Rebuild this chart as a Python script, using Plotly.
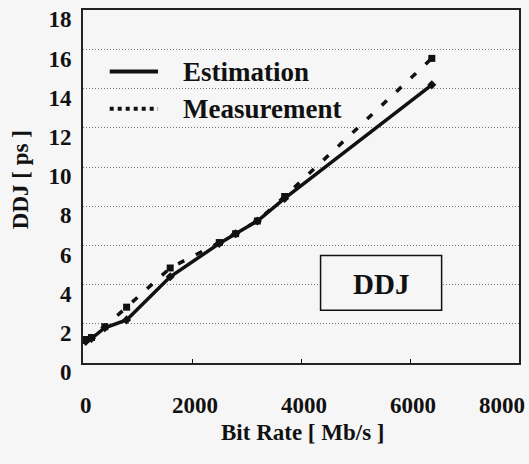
import plotly.graph_objects as go

# Deterministic jitter vs. bit rate
bit_rate = [50, 155, 400, 800, 1600, 2500, 2800, 3200, 3700, 6400]
estimation = [1.1, 1.25, 1.8, 2.2, 4.4, 6.1, 6.6, 7.25, 8.4, 14.2]
measurement = [1.2, 1.3, 1.85, 2.85, 4.85, 6.15, 6.6, 7.25, 8.5, 15.55]

x_ticks = [0, 2000, 4000, 6000, 8000]
x_tick_text = ["0", "2000", "4000", "6000", "8000"]
y_ticks = [0, 2, 4, 6, 8, 10, 12, 14, 16, 18]

series_names = ["Estimation", "Measurement"]
box_label = "DDJ"
x_title = "Bit Rate [ Mb/s ]"
y_title = "DDJ [ ps ]"

FONT = "Liberation Serif"
INK = "#111111"
BG = "#f6f6f6"

fig = go.Figure()

fig.add_trace(go.Scatter(
    x=bit_rate, y=estimation, name=series_names[0], mode="lines+markers",
    line=dict(color=INK, width=3.5),
    marker=dict(symbol="diamond", size=7, color=INK),
))
fig.add_trace(go.Scatter(
    x=bit_rate, y=measurement, name=series_names[1], mode="lines+markers",
    line=dict(color=INK, width=3.5, dash="7px,13px"),
    marker=dict(symbol="square", size=7, color=INK),
))

# Hand-drawn legend block in the upper left of the plot
legend_items = [
    dict(y=14.88, dash=None),
    dict(y=12.98, dash="4px,4px"),
]
for name, item in zip(series_names, legend_items):
    line_style = dict(color=INK, width=4)
    if item["dash"]:
        line_style["dash"] = item["dash"]
    fig.add_shape(type="line", x0=490, x1=1377, y0=item["y"], y1=item["y"],
                  xref="x", yref="y", line=line_style)
    fig.add_annotation(x=1790, y=item["y"], xref="x", yref="y", text=name,
                       showarrow=False, xanchor="left", yanchor="middle",
                       font=dict(family=FONT, size=27, color=INK, weight="bold"))

# Boxed series label
fig.add_shape(type="rect", x0=4359, x1=6580, y0=2.69, y1=5.49, xref="x", yref="y",
              line=dict(color=INK, width=1.5), fillcolor=BG, layer="above")
fig.add_annotation(x=5459, y=4.05, xref="x", yref="y", text=box_label,
                   showarrow=False, xanchor="center", yanchor="middle",
                   font=dict(family=FONT, size=29, color=INK, weight="bold"))

# Bottom tick labels
for i, (v, t) in enumerate(zip(x_ticks, x_tick_text)):
    last = i == len(x_ticks) - 1
    fig.add_annotation(x=v, y=0, xref="x", yref="paper", text=t, showarrow=False,
                       xanchor="right" if last else "center", yanchor="middle",
                       xshift=8 if last else 3, yshift=-42,
                       font=dict(family=FONT, size=23, color=INK, weight="bold"))

# Axis titles
fig.add_annotation(x=0.505, y=0, xref="paper", yref="paper", text=x_title,
                   showarrow=False, xanchor="center", yanchor="middle", yshift=-69,
                   font=dict(family=FONT, size=23, color=INK, weight="bold"))
fig.add_annotation(x=0, y=0.518, xref="paper", yref="paper", text=y_title,
                   showarrow=False, xanchor="center", yanchor="middle", xshift=-63,
                   textangle=-90,
                   font=dict(family=FONT, size=23, color=INK, weight="bold"))

fig.update_layout(
    width=529, height=464,
    margin=dict(l=83, r=10, t=10, b=101),
    paper_bgcolor=BG, plot_bgcolor=BG,
    showlegend=False,
    font=dict(family=FONT, color=INK),
    xaxis=dict(
        range=[0, 8000], tickvals=x_ticks, showticklabels=False,
        ticks="inside", ticklen=4, tickwidth=1, tickcolor=INK,
        showgrid=False, zeroline=False, automargin=False,
        showline=True, linewidth=2, linecolor="#222222", mirror=True,
    ),
    yaxis=dict(
        range=[0, 18.02], tickvals=y_ticks, automargin=False,
        tickfont=dict(family=FONT, size=23, color=INK, weight="bold"),
        ticklabelshift=9, ticklabelstandoff=5, ticklabeloverflow="allow",
        showgrid=True, gridcolor="#7a7a7a", gridwidth=1, griddash="1px,2px",
        zeroline=False,
        showline=True, linewidth=2, linecolor="#222222", mirror=True,
    ),
)

fig.write_html("out.html")
